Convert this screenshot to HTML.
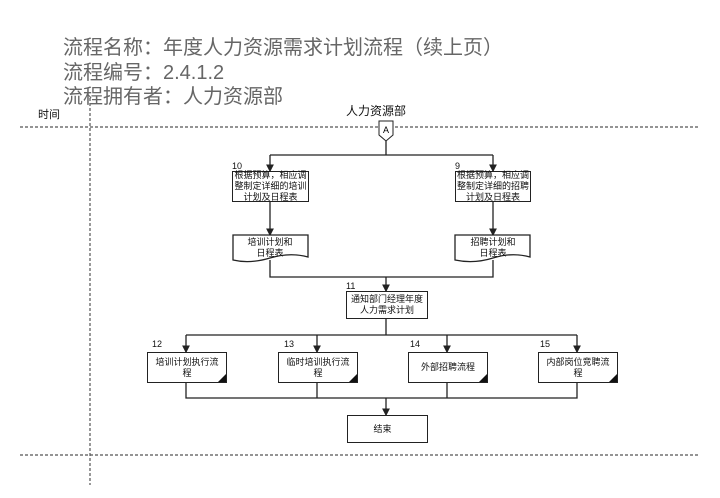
<!DOCTYPE html><html><head><meta charset="utf-8"><style>
body{margin:0;width:720px;height:498px;background:#fff;overflow:hidden;position:relative;font-family:"Liberation Sans","Noto Sans CJK SC",sans-serif}
.t{position:absolute;left:63px;font-size:20px;color:#666;line-height:24px}
.b{position:absolute;border:1.3px solid #222;background:#fff;font-size:9px;text-align:center;display:flex;align-items:center;justify-content:center;line-height:11px;box-sizing:border-box;color:#111}
.n{position:absolute;font-size:9px;color:#111}
.tri{position:absolute;right:0;bottom:0;width:0;height:0;border-left:8px solid transparent;border-bottom:8px solid #111}
</style></head><body>
<div class="t" style="top:36px">流程名称：年度人力资源需求计划流程（续上页）</div>
<div class="t" style="top:61px">流程编号：2.4.1.2</div>
<div class="t" style="top:85px">流程拥有者：人力资源部</div>
<div class="n" style="left:38px;top:106px;font-size:11px">时间</div>
<div class="n" style="left:346px;top:102px;font-size:12px">人力资源部</div>
<svg width="720" height="498" style="position:absolute;left:0;top:0">
<defs><marker id="a" markerWidth="6" markerHeight="6" refX="5" refY="3" orient="auto"><path d="M0,0L6,3L0,6z" fill="#222"/></marker></defs>
<g stroke="#555" stroke-dasharray="3,2" stroke-width="1.2"><line x1="20" y1="127" x2="700" y2="127"/><line x1="20" y1="455" x2="700" y2="455"/><line x1="90" y1="98" x2="90" y2="485"/></g>
<path d="M379,121h14v14l-7,6l-7,-6z" fill="#fff" stroke="#222"/><text x="386" y="133" font-size="9" text-anchor="middle" font-family="Liberation Sans">A</text>
<g stroke="#222" stroke-width="1.3" fill="none">
<path d="M386,141V155M270,155H493"/>
<path d="M270,155V171" marker-end="url(#a)"/><path d="M493,155V171" marker-end="url(#a)"/>
<path d="M270,201V235" marker-end="url(#a)"/><path d="M493,201V235" marker-end="url(#a)"/>
<path d="M270,260V277H493V260"/><path d="M386,277V291" marker-end="url(#a)"/>
<path d="M386,318V335M186,335H577"/>
<path d="M186,335V352" marker-end="url(#a)"/><path d="M317,335V352" marker-end="url(#a)"/><path d="M447,335V352" marker-end="url(#a)"/><path d="M577,335V352" marker-end="url(#a)"/>
<path d="M186,382V398H577V382M317,382V398M447,382V398"/><path d="M386,398V415" marker-end="url(#a)"/>
<path d="M233,235H308V257Q290,252 270,258T233,260Z" fill="#fff"/>
<path d="M455,235H530V257Q512,252 493,258T455,260Z" fill="#fff"/>
<line x1="418" y1="415" x2="418" y2="442"/>
</g>
<g font-size="9" text-anchor="middle" font-family="Liberation Sans,Noto Sans CJK SC" fill="#111"><text x="270" y="245">培训计划和</text><text x="270" y="256">日程表</text><text x="493" y="245">招聘计划和</text><text x="493" y="256">日程表</text></g>
</svg>
<div class="n" style="left:232px;top:161px">10</div><div class="n" style="left:455px;top:161px">9</div>
<div class="b" style="left:232px;top:171px;width:77px;height:31px">根据预算，相应调<br>整制定详细的培训<br>计划及日程表</div>
<div class="b" style="left:455px;top:171px;width:76px;height:31px">根据预算，相应调<br>整制定详细的招聘<br>计划及日程表</div>
<div class="n" style="left:346px;top:281px">11</div>
<div class="b" style="left:346px;top:291px;width:82px;height:28px">通知部门经理年度<br>人力需求计划</div>
<div class="n" style="left:152px;top:339px">12</div><div class="n" style="left:284px;top:339px">13</div><div class="n" style="left:410px;top:339px">14</div><div class="n" style="left:540px;top:339px">15</div>
<div class="b" style="left:147px;top:352px;width:80px;height:31px">培训计划执行流<br>程<div class="tri"></div></div>
<div class="b" style="left:278px;top:352px;width:80px;height:31px">临时培训执行流<br>程<div class="tri"></div></div>
<div class="b" style="left:408px;top:352px;width:80px;height:31px">外部招聘流程<div class="tri"></div></div>
<div class="b" style="left:538px;top:352px;width:80px;height:31px">内部岗位竞聘流<br>程<div class="tri"></div></div>
<div class="b" style="left:347px;top:415px;width:81px;height:28px;padding-right:10px">结束</div>
</body></html>
